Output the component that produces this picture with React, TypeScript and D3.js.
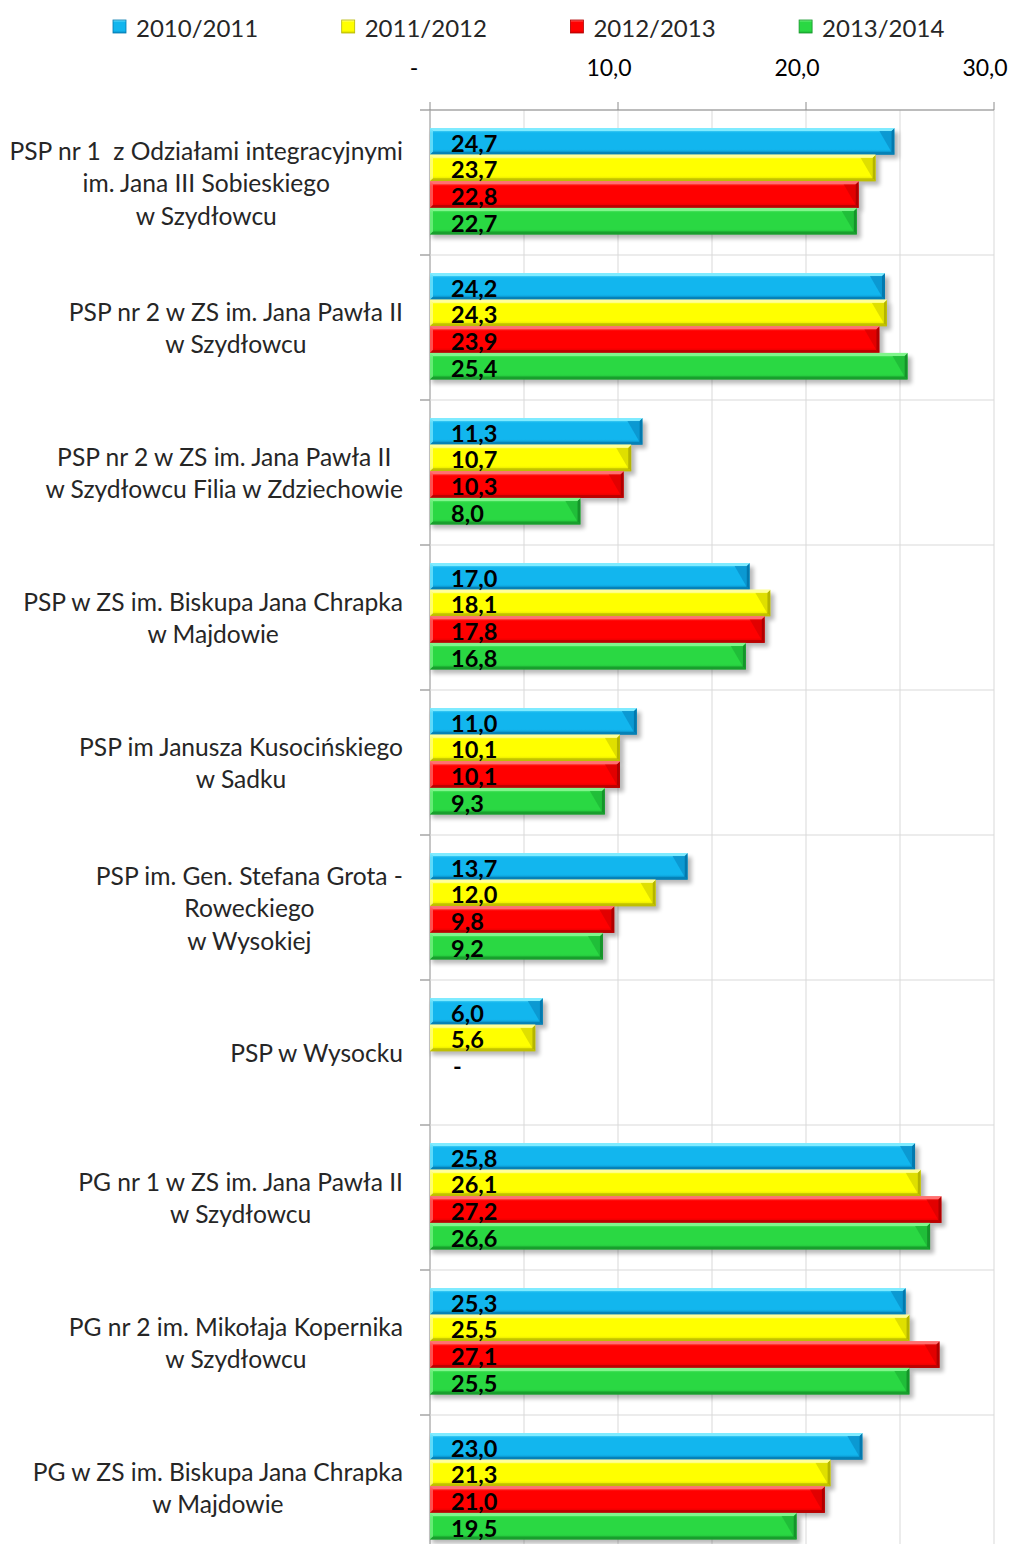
import React, { useEffect, useRef } from 'react';
import * as d3 from 'd3';

const categories: string[][] = [
  ['PSP nr 1  z Odziałami integracyjnymi', 'im. Jana III Sobieskiego', 'w Szydłowcu'],
  ['PSP nr 2 w ZS im. Jana Pawła II', 'w Szydłowcu'],
  ['PSP nr 2 w ZS im. Jana Pawła II', 'w Szydłowcu Filia w Zdziechowie'],
  ['PSP w ZS im. Biskupa Jana Chrapka', 'w Majdowie'],
  ['PSP im Janusza Kusocińskiego', 'w Sadku'],
  ['PSP im. Gen. Stefana Grota -', 'Roweckiego', 'w Wysokiej'],
  ['PSP w Wysocku'],
  ['PG nr 1 w ZS im. Jana Pawła II', 'w Szydłowcu'],
  ['PG nr 2 im. Mikołaja Kopernika', 'w Szydłowcu'],
  ['PG w ZS im. Biskupa Jana Chrapka', 'w Majdowie'],
];
const seriesNames = ['2010/2011', '2011/2012', '2012/2013', '2013/2014'];
const s2010 = [24.7, 24.2, 11.3, 17.0, 11.0, 13.7, 6.0, 25.8, 25.3, 23.0];
const s2011 = [23.7, 24.3, 10.7, 18.1, 10.1, 12.0, 5.6, 26.1, 25.5, 21.3];
const s2012 = [22.8, 23.9, 10.3, 17.8, 10.1, 9.8, 0, 27.2, 27.1, 21.0];
const s2013: (number | null)[] = [22.7, 25.4, 8.0, 16.8, 9.3, 9.2, null, 26.6, 25.5, 19.5];
const tickValues = [0, 10, 20, 30];
const gridValues = [0, 5, 10, 15, 20, 25, 30];

const palettes = [
  { light: '#7FEBFF', base: '#12B6EE', dark: '#0379AE', edge: '#0A8FC8' },
  { light: '#FFFF9A', base: '#FFFF00', dark: '#B5B500', edge: '#D4D400' },
  { light: '#FF7070', base: '#FF0000', dark: '#B00000', edge: '#D80000' },
  { light: '#80F58C', base: '#2AD843', dark: '#15942A', edge: '#1EB535' },
];

const FONT = 'Lato, "Open Sans", sans-serif';
const W = 1012;
const H = 1544;

const fmt = (v: number) => (v === 0 ? '-' : d3.format('.1f')(v).replace('.', ','));

export default function App() {
  const ref = useRef<SVGSVGElement | null>(null);

  useEffect(() => {
    const svg = d3.select(ref.current!);
    svg.selectAll('*').remove();
    const series = [s2010, s2011, s2012, s2013];

    const x = d3.scaleLinear().domain([0, 30]).range([430, 994]);
    const yOuter = d3
      .scaleBand<number>()
      .domain(d3.range(categories.length))
      .range([110, 110 + categories.length * 145])
      .padding(0);
    const yInner = d3
      .scaleBand<number>()
      .domain(d3.range(series.length))
      .range([18, 124.5])
      .padding(0);

    const defs = svg.append('defs');
    palettes.forEach((p, i) => {
      const g = defs
        .append('linearGradient')
        .attr('id', `grad${i}`)
        .attr('x1', 0)
        .attr('y1', 0)
        .attr('x2', 0)
        .attr('y2', 1);
      g.append('stop').attr('offset', '0%').attr('stop-color', p.light);
      g.append('stop').attr('offset', '18%').attr('stop-color', p.base);
      g.append('stop').attr('offset', '80%').attr('stop-color', p.base);
      g.append('stop').attr('offset', '100%').attr('stop-color', p.edge);
    });
    const f = defs
      .append('filter')
      .attr('id', 'shadow')
      .attr('x', '-10%')
      .attr('y', '-30%')
      .attr('width', '130%')
      .attr('height', '180%');
    f.append('feGaussianBlur').attr('stdDeviation', 2.2);

    // gridlines
    const grid = svg.append('g');
    gridValues.forEach((v) => {
      grid
        .append('line')
        .attr('x1', x(v))
        .attr('x2', x(v))
        .attr('y1', 110)
        .attr('y2', H)
        .attr('stroke', v === 0 ? '#8C8C8C' : '#D9D9D9')
        .attr('stroke-width', 1);
    });
    d3.range(categories.length + 1).forEach((i) => {
      const yy = 110 + i * yOuter.step();
      grid
        .append('line')
        .attr('x1', 420)
        .attr('x2', 994)
        .attr('y1', yy)
        .attr('y2', yy)
        .attr('stroke', '#D9D9D9');
      grid
        .append('line')
        .attr('x1', 420)
        .attr('x2', 430)
        .attr('y1', yy)
        .attr('y2', yy)
        .attr('stroke', '#8C8C8C');
    });
    // top axis
    grid
      .append('line')
      .attr('x1', 430)
      .attr('x2', 994)
      .attr('y1', 110)
      .attr('y2', 110)
      .attr('stroke', '#8C8C8C');
    tickValues.forEach((v) => {
      grid
        .append('line')
        .attr('x1', x(v))
        .attr('x2', x(v))
        .attr('y1', 102)
        .attr('y2', 110)
        .attr('stroke', '#8C8C8C');
      svg
        .append('text')
        .attr('x', v === 0 ? x(v) - 16 : x(v) - 9)
        .attr('y', 67)
        .attr('text-anchor', 'middle')
        .attr('dominant-baseline', 'central')
        .attr('font-family', FONT)
        .attr('font-size', 23)
        .attr('fill', '#000')
        .text(fmt(v));
    });

    // bars
    const barsG = svg.append('g');
    categories.forEach((_, ci) => {
      series.forEach((s, si) => {
        const v = s[ci];
        if (v === null || v === undefined || v <= 0) return;
        const y0 = yOuter(ci)! + yInner(si)!;
        const h = yInner.bandwidth();
        const x0 = x(0);
        const x1 = x(v);
        barsG
          .append('rect')
          .attr('x', x0 + 2)
          .attr('y', y0 + 4)
          .attr('width', x1 - x0 + 2)
          .attr('height', h)
          .attr('fill', '#000')
          .attr('opacity', 0.28)
          .attr('filter', 'url(#shadow)');
      });
    });
    categories.forEach((_, ci) => {
      series.forEach((s, si) => {
        const v = s[ci];
        if (v === null || v === undefined || v <= 0) return;
        const y0 = yOuter(ci)! + yInner(si)!;
        const h = yInner.bandwidth();
        const x0 = x(0);
        const x1 = x(v);
        const y1 = y0 + h;
        const p = palettes[si];
        const g = barsG.append('g');
        const pts = (arr: number[][]) => arr.map((q) => q.join(',')).join(' ');
        g.append('rect')
          .attr('x', x0)
          .attr('y', y0)
          .attr('width', x1 - x0)
          .attr('height', h)
          .attr('fill', `url(#grad${si})`);
        const b = 3;
        g.append('polygon')
          .attr('points', pts([[x1 - 15, y0 + b], [x1 - b, y0 + b], [x1 - b, y1 - b]]))
          .attr('fill', p.edge)
          .attr('opacity', 0.75);
        g.append('polygon')
          .attr('points', pts([[x1 - b, y0 + b], [x1, y0], [x1, y1], [x1 - b, y1 - b]]))
          .attr('fill', p.dark);
        g.append('polygon')
          .attr('points', pts([[x0, y0], [x0 + b, y0 + b], [x0 + b, y1 - b], [x0, y1]]))
          .attr('fill', p.light)
          .attr('opacity', 0.7);
        g.append('polygon')
          .attr('points', pts([[x0, y1], [x0 + b, y1 - b], [x1 - b, y1 - b], [x1, y1]]))
          .attr('fill', p.dark)
          .attr('opacity', 0.75);
        g.append('polygon')
          .attr('points', pts([[x0, y0], [x1, y0], [x1 - b, y0 + b], [x0 + b, y0 + b]]))
          .attr('fill', p.light);
      });
    });

    // data labels
    categories.forEach((_, ci) => {
      series.forEach((s, si) => {
        const v = s[ci];
        if (v === null || v === undefined) return;
        const y0 = yOuter(ci)! + yInner(si)!;
        const h = yInner.bandwidth();
        svg
          .append('text')
          .attr('x', v === 0 ? 453 : 451)
          .attr('y', y0 + h / 2 + 1.5)
          .attr('dominant-baseline', 'central')
          .attr('font-family', FONT)
          .attr('font-weight', 'bold')
          .attr('font-size', 23.5)
          .attr('fill', '#000')
          .text(fmt(v));
      });
    });

    // category labels
    categories.forEach((lines, ci) => {
      const cy = yOuter(ci)! + yOuter.bandwidth() / 2;
      const lh = 32.5;
      const t = svg
        .append('text')
        .attr('font-family', FONT)
        .attr('font-size', 24.6)
        .attr('fill', '#262626')
        .attr('text-anchor', 'middle')
        .attr('xml:space', 'preserve')
        .style('white-space', 'pre');
      lines.forEach((ln, li) => {
        t.append('tspan')
          .attr('x', 0)
          .attr('y', cy + (li - (lines.length - 1) / 2) * lh)
          .attr('dominant-baseline', 'central')
          .text(ln);
      });
      const w = (t.node() as SVGTextElement).getBBox().width;
      t.selectAll('tspan').attr('x', 403 - w / 2);
    });

    // legend
    seriesNames.forEach((name, i) => {
      const lx = 113 + i * 228.7;
      const p = palettes[i];
      svg
        .append('rect')
        .attr('x', lx)
        .attr('y', 20)
        .attr('width', 13)
        .attr('height', 13)
        .attr('fill', `url(#grad${i})`)
        .attr('stroke', p.dark)
        .attr('stroke-width', 0.8);
      svg
        .append('text')
        .attr('x', lx + 23)
        .attr('y', 27)
        .attr('dominant-baseline', 'central')
        .attr('font-family', FONT)
        .attr('font-size', 24)
        .attr('fill', '#262626')
        .text(name);
    });
  }, []);

  return (
    <svg
      ref={ref}
      width={W}
      height={H}
      style={{ position: 'absolute', left: 0, top: 0, background: '#fff', display: 'block' }}
    />
  );
}
